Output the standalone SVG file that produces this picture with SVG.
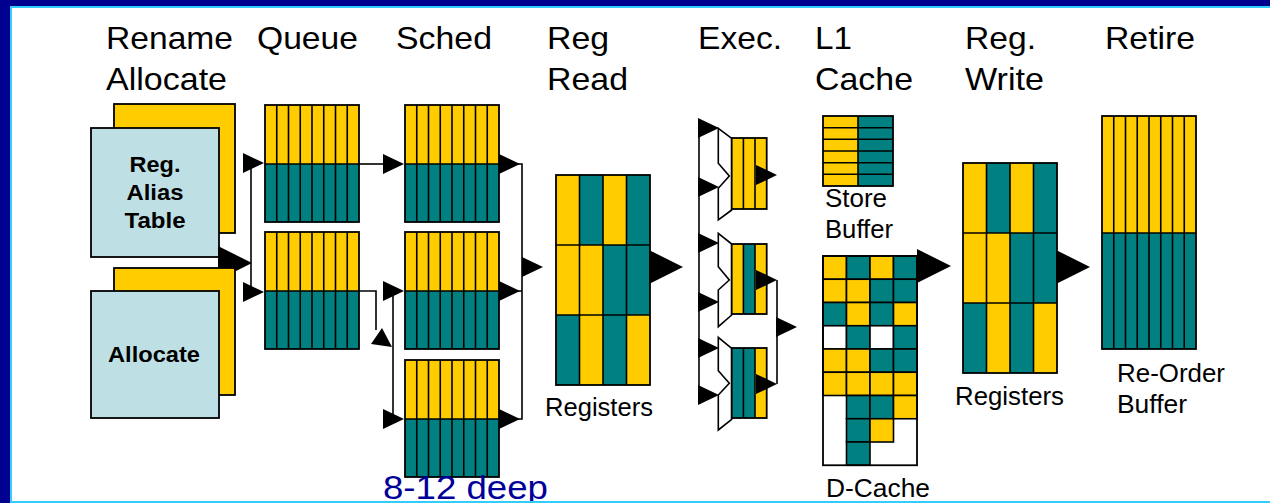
<svg xmlns="http://www.w3.org/2000/svg" xmlns:xlink="http://www.w3.org/1999/xlink" width="1270" height="503" viewBox="0 0 1270 503">
  <style>
    .hdr { font-family: "Liberation Sans", Arial, sans-serif; font-size: 32px; fill: #000; }
    .lbl { font-family: "Liberation Sans", Arial, sans-serif; font-size: 25px; fill: #000; }
    .unit { font-family: "Liberation Sans", Arial, sans-serif; font-size: 22px; font-weight: bold; fill: #000; text-anchor: middle; }
    .note { font-family: "Liberation Sans", Arial, sans-serif; font-size: 34px; fill: #000099; }
    .y { fill: #FFCC00; }
    .t { fill: #008080; }
    .w { fill: #FFFFFF; }
    .box { fill: none; stroke: #000; stroke-width: 1.8; }
    .ln { fill: none; stroke: #000; stroke-width: 1.6; }
    .cell { stroke: #000; stroke-width: 1.6; }
    .wire { fill: none; stroke: #000; stroke-width: 1.6; }
    .head { fill: #000; }
    .alu { fill: #fff; stroke: #000; stroke-width: 1.6; stroke-linejoin: miter; }
    .front { fill: #BEE0E4; stroke: #000; stroke-width: 1.8; }
  </style>
  <defs>
    <!-- 8-entry two-field bank (queue / scheduler) -->
    <g id="bank8">
      <rect class="y" width="94" height="59"/>
      <rect class="t" y="59" width="94" height="58"/>
      <path class="ln" d="M11.75,0V117M23.5,0V117M35.25,0V117M47,0V117M58.75,0V117M70.5,0V117M82.25,0V117M0,59H94"/>
      <rect class="box" width="94" height="117"/>
    </g>
    <!-- 4x3 register file -->
    <g id="regfile">
      <rect class="y" x="0" y="0" width="23.5" height="70"/>
      <rect class="t" x="23.5" y="0" width="23.5" height="70"/>
      <rect class="y" x="47" y="0" width="23.5" height="70"/>
      <rect class="t" x="70.5" y="0" width="23.5" height="70"/>
      <rect class="y" x="0" y="70" width="23.5" height="70"/>
      <rect class="y" x="23.5" y="70" width="23.5" height="70"/>
      <rect class="t" x="47" y="70" width="23.5" height="70"/>
      <rect class="t" x="70.5" y="70" width="23.5" height="70"/>
      <rect class="t" x="0" y="140" width="23.5" height="70"/>
      <rect class="y" x="23.5" y="140" width="23.5" height="70"/>
      <rect class="t" x="47" y="140" width="23.5" height="70"/>
      <rect class="y" x="70.5" y="140" width="23.5" height="70"/>
      <path class="ln" d="M23.5,0V210M47,0V210M70.5,0V210M0,70H94M0,140H94"/>
      <rect class="box" width="94" height="210"/>
    </g>
    <path id="ah" class="head" d="M-21,-10L0,0L-21,10Z"/>
    <path id="ahb" class="head" d="M-34,-17L0,0L-34,17Z"/>
  </defs>

  <rect width="1270" height="503" fill="#fff"/>

  <!-- stage headings -->
  <g id="headings">
    <text class="hdr" x="106" y="49" textLength="127" lengthAdjust="spacingAndGlyphs">Rename</text>
    <text class="hdr" x="106" y="90" textLength="121" lengthAdjust="spacingAndGlyphs">Allocate</text>
    <text class="hdr" x="257" y="49" textLength="101" lengthAdjust="spacingAndGlyphs">Queue</text>
    <text class="hdr" x="396" y="49" textLength="96" lengthAdjust="spacingAndGlyphs">Sched</text>
    <text class="hdr" x="547" y="49" textLength="62" lengthAdjust="spacingAndGlyphs">Reg</text>
    <text class="hdr" x="547" y="90" textLength="81" lengthAdjust="spacingAndGlyphs">Read</text>
    <text class="hdr" x="698" y="49" textLength="84" lengthAdjust="spacingAndGlyphs">Exec.</text>
    <text class="hdr" x="815" y="49" textLength="37" lengthAdjust="spacingAndGlyphs">L1</text>
    <text class="hdr" x="815" y="90" textLength="98" lengthAdjust="spacingAndGlyphs">Cache</text>
    <text class="hdr" x="965" y="49" textLength="71" lengthAdjust="spacingAndGlyphs">Reg.</text>
    <text class="hdr" x="965" y="90" textLength="79" lengthAdjust="spacingAndGlyphs">Write</text>
    <text class="hdr" x="1105" y="49" textLength="90" lengthAdjust="spacingAndGlyphs">Retire</text>
  </g>

  <!-- rename: register alias table -->
  <g id="rat">
    <rect class="y" x="114" y="104" width="121" height="129" stroke="#000" stroke-width="1.8"/>
    <rect class="front" x="91" y="128" width="128" height="129"/>
    <text class="unit" x="155" y="172" textLength="51" lengthAdjust="spacingAndGlyphs">Reg.</text>
    <text class="unit" x="155" y="200" textLength="57" lengthAdjust="spacingAndGlyphs">Alias</text>
    <text class="unit" x="155" y="228" textLength="61" lengthAdjust="spacingAndGlyphs">Table</text>
  </g>

  <!-- allocator -->
  <g id="allocate">
    <rect class="y" x="114" y="268" width="121" height="127" stroke="#000" stroke-width="1.8"/>
    <rect class="front" x="91" y="291" width="128" height="127"/>
    <text class="unit" x="154" y="362" textLength="92" lengthAdjust="spacingAndGlyphs">Allocate</text>
  </g>

  <!-- uop queues -->
  <g id="queue-1"><use xlink:href="#bank8" x="265" y="105"/></g>
  <g id="queue-2"><use xlink:href="#bank8" x="265" y="232"/></g>

  <!-- schedulers -->
  <g id="sched-1"><use xlink:href="#bank8" x="405" y="105"/></g>
  <g id="sched-2"><use xlink:href="#bank8" x="405" y="232"/></g>
  <g id="sched-3"><use xlink:href="#bank8" x="405" y="360"/></g>
  <text class="note" x="383" y="499" textLength="165" lengthAdjust="spacingAndGlyphs">8-12 deep</text>

  <!-- register read -->
  <g id="regs-read">
    <use xlink:href="#regfile" x="556" y="175"/>
    <text class="lbl" x="545" y="416" textLength="108" lengthAdjust="spacingAndGlyphs">Registers</text>
  </g>

  <!-- execution units -->
  <g id="exec-1">
    <polygon class="alu" points="718.3,128.3 731.7,138.3 731.7,210 718.3,220 718.3,188.3 729.3,176 718.3,163.3"/>
    <rect class="y" x="731.7" y="138" width="35" height="71"/>
    <path class="ln" d="M743.4,138V209M755,138V209"/>
    <rect class="box" x="731.7" y="138" width="35" height="71"/>
  </g>
  <g id="exec-2">
    <polygon class="alu" points="718.3,233.3 731.7,244 731.7,315 718.3,326.7 718.3,290 729.3,280 718.3,266.7"/>
    <rect class="y" x="731.7" y="244" width="11.7" height="70"/>
    <rect class="t" x="743.4" y="244" width="11.6" height="70"/>
    <rect class="y" x="755" y="244" width="11.7" height="70"/>
    <path class="ln" d="M743.4,244V314M755,244V314"/>
    <rect class="box" x="731.7" y="244" width="35" height="70"/>
  </g>
  <g id="exec-3">
    <polygon class="alu" points="718.3,337.3 731.7,348.3 731.7,419.3 718.3,430 718.3,395 729.3,383.3 718.3,370.7"/>
    <rect class="t" x="731.7" y="348" width="23.3" height="70"/>
    <rect class="y" x="755" y="348" width="11.7" height="70"/>
    <path class="ln" d="M743.4,348V418M755,348V418"/>
    <rect class="box" x="731.7" y="348" width="35" height="70"/>
  </g>

  <!-- store buffer -->
  <g id="store-buffer">
    <rect class="y" x="823" y="116" width="35" height="70"/>
    <rect class="t" x="858" y="116" width="35" height="70"/>
    <path class="ln" d="M858,116V186M823,127.7H893M823,139.3H893M823,151H893M823,162.7H893M823,174.3H893"/>
    <rect class="box" x="823" y="116" width="70" height="70"/>
    <text class="lbl" x="825" y="207" textLength="62" lengthAdjust="spacingAndGlyphs">Store</text>
    <text class="lbl" x="825" y="238" textLength="68" lengthAdjust="spacingAndGlyphs">Buffer</text>
  </g>

  <!-- data cache -->
  <g id="d-cache">
    <rect class="w" x="823" y="256" width="94" height="209.25"/>
    <g class="cell">
      <rect class="y" x="823" y="256" width="23.5" height="23.25"/>
      <rect class="t" x="846.5" y="256" width="23.5" height="23.25"/>
      <rect class="y" x="870" y="256" width="23.5" height="23.25"/>
      <rect class="t" x="893.5" y="256" width="23.5" height="23.25"/>

      <rect class="y" x="823" y="279.25" width="23.5" height="23.25"/>
      <rect class="y" x="846.5" y="279.25" width="23.5" height="23.25"/>
      <rect class="t" x="870" y="279.25" width="23.5" height="23.25"/>
      <rect class="t" x="893.5" y="279.25" width="23.5" height="23.25"/>

      <rect class="t" x="823" y="302.5" width="23.5" height="23.25"/>
      <rect class="y" x="846.5" y="302.5" width="23.5" height="23.25"/>
      <rect class="t" x="870" y="302.5" width="23.5" height="23.25"/>
      <rect class="y" x="893.5" y="302.5" width="23.5" height="23.25"/>

      <rect class="w" x="823" y="325.75" width="23.5" height="23.25"/>
      <rect class="t" x="846.5" y="325.75" width="23.5" height="23.25"/>
      <rect class="w" x="870" y="325.75" width="23.5" height="23.25"/>
      <rect class="t" x="893.5" y="325.75" width="23.5" height="23.25"/>

      <rect class="y" x="823" y="349" width="23.5" height="23.25"/>
      <rect class="y" x="846.5" y="349" width="23.5" height="23.25"/>
      <rect class="t" x="870" y="349" width="23.5" height="23.25"/>
      <rect class="t" x="893.5" y="349" width="23.5" height="23.25"/>

      <rect class="y" x="823" y="372.25" width="23.5" height="23.25"/>
      <rect class="y" x="846.5" y="372.25" width="23.5" height="23.25"/>
      <rect class="y" x="870" y="372.25" width="23.5" height="23.25"/>
      <rect class="y" x="893.5" y="372.25" width="23.5" height="23.25"/>

      <rect class="t" x="846.5" y="395.5" width="23.5" height="23.25"/>
      <rect class="t" x="870" y="395.5" width="23.5" height="23.25"/>
      <rect class="y" x="893.5" y="395.5" width="23.5" height="23.25"/>

      <rect class="t" x="846.5" y="418.75" width="23.5" height="23.25"/>
      <rect class="y" x="870" y="418.75" width="23.5" height="23.25"/>

      <rect class="t" x="846.5" y="442" width="23.5" height="23.25"/>
    </g>
    <rect class="box" x="823" y="256" width="94" height="209.25"/>
    <text class="lbl" x="826" y="497" textLength="104" lengthAdjust="spacingAndGlyphs">D-Cache</text>
  </g>

  <!-- register write -->
  <g id="regs-write">
    <use xlink:href="#regfile" x="963" y="163"/>
    <text class="lbl" x="955" y="405" textLength="109" lengthAdjust="spacingAndGlyphs">Registers</text>
  </g>

  <!-- re-order buffer -->
  <g id="rob">
    <rect class="y" x="1102" y="116" width="94" height="117"/>
    <rect class="t" x="1102" y="233" width="94" height="116"/>
    <path class="ln" d="M1113.75,116V349M1125.5,116V349M1137.25,116V349M1149,116V349M1160.75,116V349M1172.5,116V349M1184.25,116V349M1102,233H1196"/>
    <rect class="box" x="1102" y="116" width="94" height="233"/>
    <text class="lbl" x="1117" y="382" textLength="108" lengthAdjust="spacingAndGlyphs">Re-Order</text>
    <text class="lbl" x="1117" y="413" textLength="70" lengthAdjust="spacingAndGlyphs">Buffer</text>
  </g>

  <!-- connectors -->
  <g id="connectors">
    <!-- rename to queues -->
    <polygon class="head" points="218,246 252,263 235,271.5 235,268 218,268"/>
    <path class="wire" d="M251,163V292"/>
    <use xlink:href="#ah" x="264" y="163"/>
    <use xlink:href="#ah" x="264" y="292"/>
    <!-- queues to schedulers -->
    <path class="wire" d="M359,164H390"/>
    <use xlink:href="#ah" x="404" y="164"/>
    <path class="wire" d="M359,291H376V330"/>
    <polygon class="head" points="382,328 371,344 392,347"/>
    <path class="wire" d="M393,291V419"/>
    <use xlink:href="#ah" x="404" y="291"/>
    <use xlink:href="#ah" x="404" y="419"/>
    <!-- schedulers to register read -->
    <path class="wire" d="M499,164H522V419H499M499,291H522"/>
    <use xlink:href="#ah" x="520" y="164"/>
    <use xlink:href="#ah" x="520" y="291"/>
    <use xlink:href="#ah" x="520" y="419"/>
    <use xlink:href="#ah" x="543" y="267"/>
    <!-- register read to execution -->
    <use xlink:href="#ahb" x="683" y="267"/>
    <path class="wire" d="M699,120V403"/>
    <use xlink:href="#ah" x="719" y="128"/>
    <use xlink:href="#ah" x="719" y="187"/>
    <use xlink:href="#ah" x="719" y="243"/>
    <use xlink:href="#ah" x="719" y="302"/>
    <use xlink:href="#ah" x="719" y="348"/>
    <use xlink:href="#ah" x="719" y="395"/>
    <!-- execution outputs -->
    <use xlink:href="#ah" x="777" y="175"/>
    <use xlink:href="#ah" x="777" y="280"/>
    <use xlink:href="#ah" x="777" y="384"/>
    <path class="wire" d="M777,280V384"/>
    <use xlink:href="#ah" x="797" y="327"/>
    <!-- cache to write-back to retire -->
    <use xlink:href="#ahb" x="951" y="266"/>
    <use xlink:href="#ahb" x="1090" y="267"/>
  </g>

  <!-- slide frame -->
  <g id="frame">
    <rect x="0" y="0" width="1270" height="6" fill="#000090"/>
    <rect x="0" y="0" width="10" height="503" fill="#000090"/>
    <rect x="10" y="6" width="1260" height="2" fill="#33CCFF"/>
    <rect x="10" y="6" width="2" height="497" fill="#33CCFF"/>
    <rect x="10" y="501" width="1260" height="2" fill="#33CCFF"/>
  </g>
</svg>
